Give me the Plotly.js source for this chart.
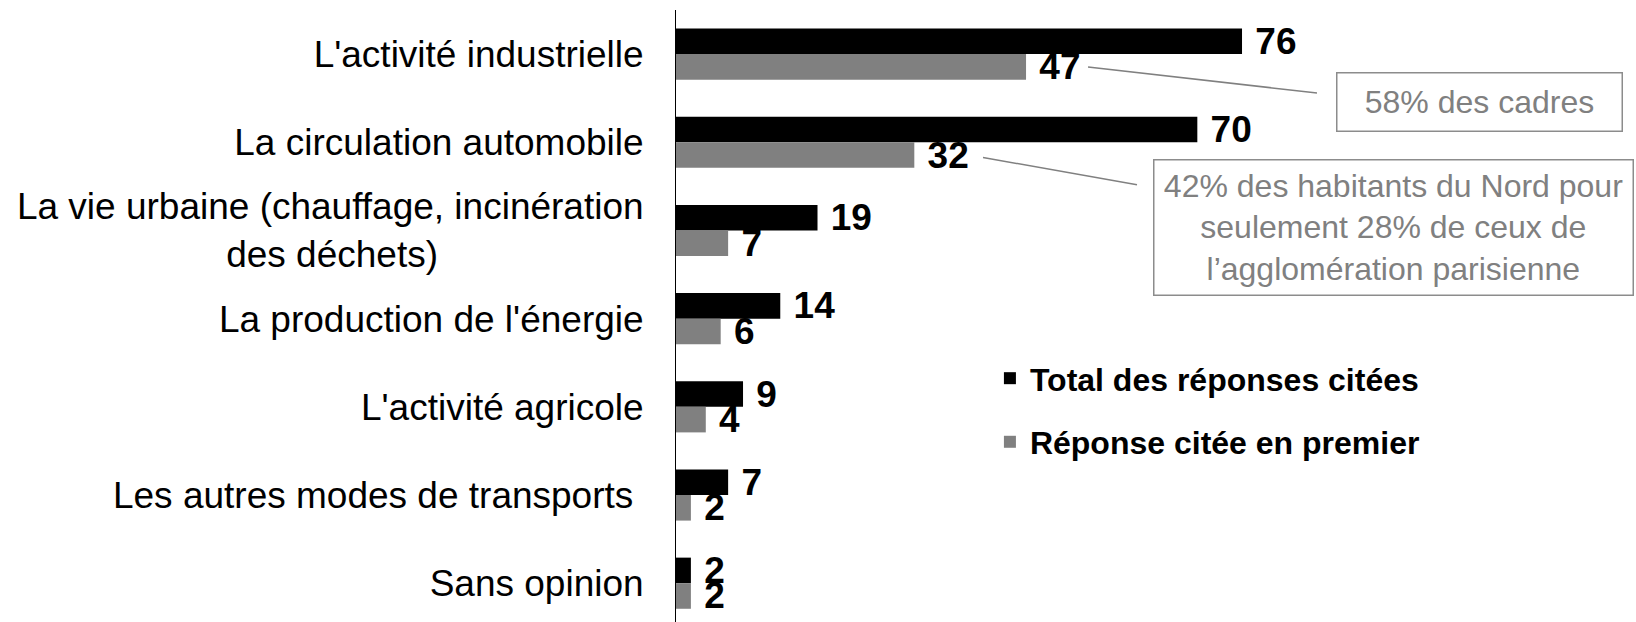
<!DOCTYPE html>
<html>
<head>
<meta charset="utf-8">
<script src="https://cdn.plot.ly/plotly-3.0.1.min.js"></script>
<style>
  html, body { margin: 0; padding: 0; background: #fff; }
  #chart { width: 1636px; height: 622px; }
</style>
</head>
<body>
<div id="chart"></div>
<script>
var NB = "\u00a0";

var categories = [
  "L'activité industrielle",
  "La circulation automobile",
  "La vie urbaine (chauffage, incinération<br>des déchets)" + NB.repeat(20),
  "La production de l'énergie",
  "L'activité agricole",
  "Les autres modes de transports" + NB,
  "Sans opinion"
];

var totalCited = [76, 70, 19, 14, 9, 7, 2];
var firstCited = [47, 32, 7, 6, 4, 2, 2];

var seriesNames = ["Total des réponses citées", "Réponse citée en premier"];
var seriesColors = ["#000000", "#808080"];

var font = 'Arial, "Liberation Sans", sans-serif';

function barTrace(values, i) {
  return {
    type: "bar",
    orientation: "h",
    name: seriesNames[i],
    legendgroup: "g" + i,
    y: categories,
    x: values,
    marker: { color: seriesColors[i] },
    text: values.map(function (v) { return NB + v; }),
    textposition: "outside",
    constraintext: "none",
    cliponaxis: false,
    textfont: { family: font, size: 37, color: "#000", weight: "bold" },
    hoverinfo: "skip"
  };
}

var data = [barTrace(totalCited, 0), barTrace(firstCited, 1)];

var layout = {
  width: 1636,
  height: 622,
  margin: { l: 676, r: 0, t: 10, b: 0 },
  paper_bgcolor: "#fff",
  plot_bgcolor: "rgba(0,0,0,0)",
  font: { family: font, color: "#000" },
  barmode: "group",
  bargap: 0.42,
  bargroupgap: 0,
  showlegend: true,
  legend: {
    x: 0.327, y: 0.443, xanchor: "left", yanchor: "top",
    traceorder: "grouped",
    tracegroupgap: 19,
    font: { family: font, size: 32, color: "#000", weight: "bold" },
    bgcolor: "rgba(0,0,0,0)"
  },
  xaxis: {
    range: [0, 128.9],
    visible: false,
    fixedrange: true
  },
  yaxis: {
    type: "category",
    range: [6.44, -0.5],
    showline: true,
    linecolor: "#000",
    linewidth: 1,
    ticks: "",
    showgrid: false,
    zeroline: false,
    automargin: false,
    ticklabelstandoff: 24,
    tickfont: { family: font, size: 37, color: "#000" },
    fixedrange: true
  },
  shapes: [
    { type: "line", xref: "paper", yref: "paper", x0: 0.4292, y0: 0.9069, x1: 0.6677, y1: 0.8644,
      line: { color: "#808080", width: 1.5 } },
    { type: "line", xref: "paper", yref: "paper", x0: 0.3198, y0: 0.759, x1: 0.4802, y1: 0.7145,
      line: { color: "#808080", width: 1.5 } }
  ],
  annotations: [
    { xref: "paper", yref: "paper", x: 0.8365, y: 0.8495, xanchor: "center", yanchor: "middle",
      text: "58% des cadres", showarrow: false, align: "center",
      width: 282, height: 55, borderpad: 1, borderwidth: 1.5, bordercolor: "#8c8c8c",
      font: { family: font, size: 32, color: "#808080" } },
    { xref: "paper", yref: "paper", x: 0.7474, y: 0.6449, xanchor: "center", yanchor: "middle",
      text: "42% des habitants du Nord pour<br>seulement 28% de ceux de<br>l’agglomération parisienne",
      showarrow: false, align: "center",
      width: 476, height: 132, borderpad: 1, borderwidth: 1.5, bordercolor: "#8c8c8c",
      font: { family: font, size: 32, color: "#808080" } }
  ]
};

Plotly.newPlot("chart", data, layout, { displayModeBar: false, staticPlot: true });
</script>
</body>
</html>
